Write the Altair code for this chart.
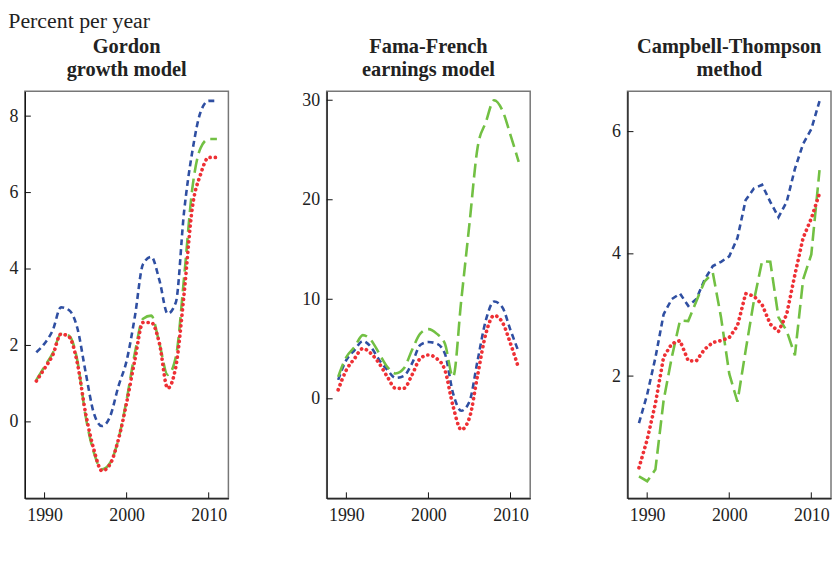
import altair as alt
import pandas as pd

years = list(range(1989, 2012))

gordon_blue = [1.82, 2.05, 2.4, 3.0, 2.92, 2.45, 1.3, 0.23, -0.11, 0.15, 0.93, 1.6, 2.75, 4.13, 4.32, 3.7, 2.83, 3.13, 5.5, 7.07, 8.1, 8.4, 8.4]
gordon_green = [1.1, 1.45, 1.8, 2.3, 2.25, 1.6, 0.15, -0.8, -1.24, -1.07, -0.45, 0.58, 1.8, 2.7, 2.78, 2.05, 1.23, 1.7, 3.78, 6.1, 7.16, 7.4, 7.4]
gordon_red = [1.07, 1.4, 1.75, 2.3, 2.22, 1.53, 0.23, -0.72, -1.28, -1.1, -0.46, 0.5, 1.62, 2.6, 2.6, 2.05, 0.88, 1.45, 3.35, 5.6, 6.47, 6.92, 6.92]

ff_blue = [1.9, 3.9, 4.9, 5.8, 5.2, 3.9, 2.9, 2.1, 2.3, 3.55, 5.4, 5.7, 5.55, 4.55, 0.55, -1.2, -0.27, 3.9, 7.9, 9.77, 9.2, 6.9, 4.7]
ff_green = [2.2, 4.2, 5.2, 6.4, 5.9, 4.55, 3.2, 2.55, 3.05, 4.9, 6.55, 7.0, 6.55, 5.55, 2.2, 9.9, 17.6, 25.3, 27.8, 30.0, 29.0, 26.5, 23.8]
ff_red = [0.9, 2.9, 4.05, 5.05, 4.55, 3.55, 2.2, 1.05, 1.05, 2.4, 4.05, 4.4, 4.05, 2.9, -0.75, -3.1, -1.9, 2.4, 6.55, 8.37, 7.7, 5.55, 3.05]

ct_blue = [1.23, 1.7, 2.3, 3.01, 3.26, 3.35, 3.15, 3.26, 3.58, 3.8, 3.87, 3.96, 4.26, 4.88, 5.07, 5.13, 4.85, 4.6, 4.85, 5.39, 5.8, 6.04, 6.5]
ct_green = [0.36, 0.28, 0.47, 1.6, 2.31, 2.91, 2.9, 3.23, 3.55, 3.69, 2.96, 2.04, 1.58, 2.42, 3.23, 3.88, 3.87, 2.96, 2.74, 2.34, 3.58, 3.99, 5.37]
ct_red = [0.5, 0.96, 1.55, 2.31, 2.53, 2.58, 2.25, 2.25, 2.44, 2.55, 2.58, 2.63, 2.82, 3.35, 3.31, 3.17, 2.85, 2.73, 3.01, 3.66, 4.26, 4.58, 4.99]

panel_titles = [["Gordon", "growth model"], ["Fama-French", "earnings model"], ["Campbell-Thompson", "method"]]
panel_series = [
    (gordon_blue, gordon_green, gordon_red),
    (ff_blue, ff_green, ff_red),
    (ct_blue, ct_green, ct_red),
]
y_domains = [[-2, 8.65], [-10, 30.9], [0, 6.66]]
y_ticks = [[0, 2, 4, 6, 8], [0, 10, 20, 30], [2, 4, 6]]
x_ticks = [1990, 2000, 2010]
x_domain = [1987.6, 2012.4]
interps = ["monotone", "monotone", "linear"]

styles = [
    ("blue", "#2f4fa2", [6, 4], "butt", 2.6),
    ("green", "#72c043", [14, 6], "butt", 2.6),
    ("red", "#ee3035", [0.1, 5.2], "round", 3.7),
]

FONT = "Liberation Serif"
W, H = 205, 410


def panel(i):
    blue, green, red = panel_series[i]
    xs = alt.X("year:Q", scale=alt.Scale(domain=x_domain, nice=False, zero=False),
               axis=alt.Axis(values=x_ticks, format="d", ticks=False, grid=False,
                             domainColor="#111", labelPadding=8, title=None))
    ys = alt.Y("value:Q", scale=alt.Scale(domain=y_domains[i], nice=False, zero=False),
               axis=alt.Axis(values=y_ticks[i], format="d", ticks=False, grid=False,
                             domainColor="#111", labelPadding=7, title=None))
    layers = []
    for (name, color, dash, cap, width), vals in zip(styles, [blue, green, red]):
        df = pd.DataFrame({"year": years, "value": vals})
        layers.append(
            alt.Chart(df).mark_line(color=color, strokeDash=dash, strokeCap=cap,
                                    strokeWidth=width, interpolate=interps[i], clip=True)
            .encode(x=xs, y=ys)
        )
    yt = pd.DataFrame({"value": y_ticks[i]})
    layers.append(
        alt.Chart(yt).mark_rule(color="#111", strokeWidth=1)
        .encode(y=alt.Y("value:Q"), x=alt.value(0), x2=alt.value(6))
    )
    xt = pd.DataFrame({"year": x_ticks})
    layers.append(
        alt.Chart(xt).mark_rule(color="#111", strokeWidth=1)
        .encode(x=alt.X("year:Q"), y=alt.value(H), y2=alt.value(H - 6))
    )
    return alt.layer(*layers).properties(
        width=W, height=H,
        title=alt.TitleParams(panel_titles[i], font=FONT, fontSize=20.5, fontWeight="bold",
                              color="#222", anchor="middle", lineHeight=23.5, offset=11),
    )


inner = alt.hconcat(panel(0), panel(1), spacing=72)
chart = alt.hconcat(inner, panel(2), spacing=80).properties(
    background="white",
    padding=0,
    title=alt.TitleParams("Percent per year", font=FONT, fontSize=22, fontWeight="normal",
                          color="#222", anchor="start", offset=0, dy=-3),
).configure_view(stroke="#777", strokeWidth=1.5).configure_axis(
    labelFont=FONT, labelFontSize=18, labelColor="#222", domainWidth=1.2,
    minExtent=0
)

chart.save("out.html", embed_options={"renderer": "svg", "actions": False})
